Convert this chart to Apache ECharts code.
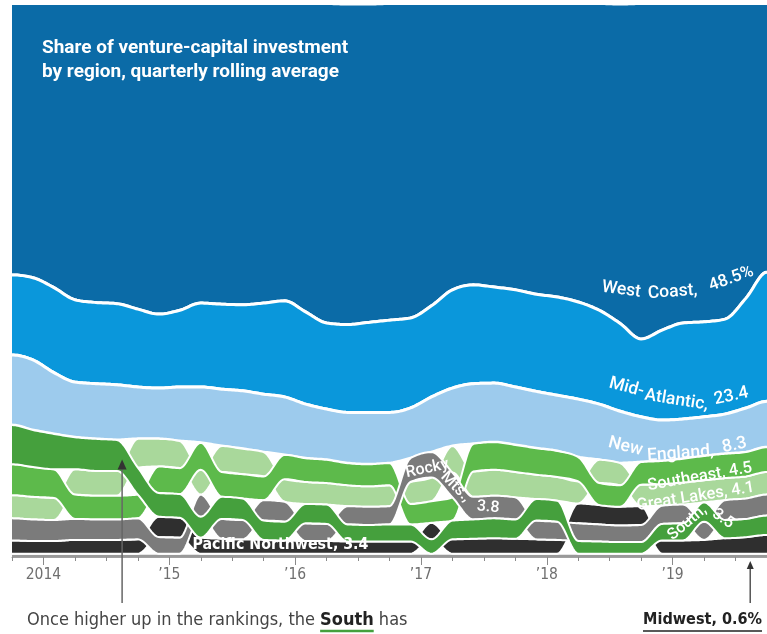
<!DOCTYPE html>
<html>
<head>
<meta charset="utf-8">
<script src="https://cdn.jsdelivr.net/npm/echarts@6/dist/echarts.min.js"></script>
<style>
  html, body { margin: 0; padding: 0; background: #fff; }
  #chart { width: 767px; height: 634px; }
</style>
</head>
<body>
<div id="chart"></div>
<script>
// Bi-monthly samples of the quarterly rolling average, share of VC investment (%)
const dates = ['2013-10','2013-12','2014-02','2014-04','2014-06','2014-08','2014-10','2014-12',
  '2015-02','2015-04','2015-06','2015-08','2015-10','2015-12','2016-02','2016-04','2016-06','2016-08',
  '2016-10','2016-12','2017-02','2017-04','2017-06','2017-08','2017-10','2017-12','2018-02','2018-04',
  '2018-06','2018-08','2018-10','2018-12','2019-02','2019-04','2019-06','2019-08','2019-10'];

const westCoast   = [48.9,49.5,51.3,53.4,54.0,54.2,55.1,56.0,55.3,54.0,54.2,54.3,54.0,53.6,55.6,57.6,57.8,57.4,57.1,56.7,54.5,51.6,50.7,51.1,51.6,52.4,52.9,53.8,55.3,57.6,60.5,58.9,57.6,57.4,56.9,53.1,48.5];
const midAtlantic = [14.5,14.9,15.4,14.9,14.7,14.7,14.1,13.4,13.9,15.2,15.4,15.6,16.5,17.4,16.7,15.6,15.9,16.3,16.7,16.3,16.5,17.8,17.9,17.4,17.6,17.6,17.8,17.6,17.0,15.9,14.1,16.3,17.4,17.2,17.2,19.9,23.4];
const newEngland  = [12.7,12.7,11.1,10.0,10.0,10.0,9.4,9.2,9.8,10.1,10.3,10.5,10.5,10.5,9.8,9.2,9.2,9.4,9.2,9.1,10.0,10.5,10.9,10.7,10.5,10.3,10.1,10.5,10.1,9.4,8.2,7.4,7.2,7.1,7.2,8.0,8.3];
const southeast   = [5.6,5.4,5.2,4.4,4.3,4.3,4.3,4.8,4.7,4.9,4.5,4.4,4.3,4.4,4.3,4.2,4.0,4.0,4.0,3.7,3.9,4.2,5.0,5.0,4.9,4.8,4.7,4.4,4.0,3.9,4.1,4.2,4.3,4.4,4.4,4.4,4.5];
const greatLakes  = [4.2,4.1,4.0,4.6,4.5,4.5,5.2,5.0,4.9,4.5,4.7,4.6,4.4,4.1,4.0,3.9,3.8,3.7,3.8,4.0,4.3,4.8,4.6,4.7,4.6,4.4,4.3,4.0,4.2,4.0,3.9,3.9,4.0,4.0,4.0,4.0,4.1];
const rockyMts    = [4.0,3.9,3.8,3.8,3.7,3.7,3.8,3.0,2.9,4.0,3.6,3.5,3.7,3.6,3.2,3.1,3.3,3.3,3.3,4.3,4.6,4.5,4.1,4.1,4.0,3.4,3.3,3.2,3.1,3.0,3.1,3.3,3.4,3.3,3.6,3.7,3.8];
const south       = [7.1,6.7,6.4,5.8,5.8,5.6,4.9,4.3,4.3,3.8,4.0,3.9,3.5,3.4,3.5,3.5,3.1,3.0,3.1,3.1,2.6,3.4,3.5,3.6,3.5,3.9,3.8,2.3,2.2,2.1,2.1,3.0,3.1,3.5,3.3,3.3,3.5];
const pacificNW   = [2.4,2.3,2.3,2.5,2.5,2.5,2.6,3.7,3.6,2.9,2.7,2.6,2.5,2.4,2.3,2.3,2.2,2.2,2.2,2.2,3.0,2.6,2.7,2.8,2.7,2.6,2.5,3.6,3.5,3.4,3.4,2.4,2.4,2.5,2.8,3.0,3.4];
const midwest     = [0.6,0.6,0.6,0.6,0.6,0.6,0.6,0.6,0.6,0.6,0.6,0.6,0.6,0.6,0.6,0.6,0.6,0.6,0.6,0.6,0.6,0.6,0.6,0.6,0.6,0.6,0.6,0.6,0.6,0.6,0.6,0.6,0.6,0.6,0.6,0.6,0.6];

const yearTickLabels = ['2014', '\u201915', '\u201916', '\u201917', '\u201918', '\u201919'];

// ---------------------------------------------------------------------------
// months since Jan 2014
const months = dates.map(d => { const [y, m] = d.split('-').map(Number); return (y - 2014) * 12 + (m - 1); });

// draw order: bottom of the pile first, ribbons that cross over others last
const regions = [
  { name: 'West Coast',        values: westCoast,   color: '#0b6ba7', edge: 3 },
  { name: 'Mid-Atlantic',      values: midAtlantic, color: '#0a97db', edge: 3 },
  { name: 'New England',       values: newEngland,  color: '#9dcbed', edge: 3 },
  { name: 'Midwest',           values: midwest,     color: '#999999', edge: 2 },
  { name: 'Pacific Northwest', values: pacificNW,   color: '#2f2f2f', edge: 2 },
  { name: 'Great Lakes',       values: greatLakes,  color: '#a9d89b', edge: 2 },
  { name: 'Southeast',         values: southeast,   color: '#5dba4b', edge: 2 },
  { name: 'Rocky Mts.',        values: rockyMts,    color: '#7b7b7b', edge: 2 },
  { name: 'South',             values: south,       color: '#45a03d', edge: 2 }
];

// rank-ordered stacking: at every sample the smallest share sits at the bottom
regions.forEach(r => { r.lo = []; r.hi = []; });
for (let i = 0; i < months.length; i++) {
  const order = regions.map((r, k) => k).sort((a, b) => regions[a].values[i] - regions[b].values[i]);
  let acc = 0;
  order.forEach(k => {
    const r = regions[k];
    r.lo[i] = acc; acc += r.values[i]; r.hi[i] = acc;
  });
}

// monotone cubic (x-monotone) sampling of pixel points
function monotoneSamples(pts, steps) {
  const n = pts.length;
  const s = [], m = new Array(n);
  for (let i = 0; i < n - 1; i++) s[i] = (pts[i + 1][1] - pts[i][1]) / (pts[i + 1][0] - pts[i][0]);
  for (let i = 1; i < n - 1; i++) {
    if (s[i - 1] * s[i] <= 0) { m[i] = 0; continue; }
    const h0 = pts[i][0] - pts[i - 1][0], h1 = pts[i + 1][0] - pts[i][0];
    const p = (s[i - 1] * h1 + s[i] * h0) / (h0 + h1);
    m[i] = (Math.sign(s[i - 1]) + Math.sign(s[i])) * Math.min(Math.abs(s[i - 1]), Math.abs(s[i]), 0.5 * Math.abs(p));
  }
  m[0] = 0; m[n - 1] = 0;
  const out = [pts[0].slice()];
  for (let i = 0; i < n - 1; i++) {
    const [x0, y0] = pts[i], [x1, y1] = pts[i + 1], h = x1 - x0;
    for (let k = 1; k <= steps; k++) {
      const t = k / steps, t2 = t * t, t3 = t2 * t;
      const y = (2 * t3 - 3 * t2 + 1) * y0 + (t3 - 2 * t2 + t) * h * m[i] + (-2 * t3 + 3 * t2) * y1 + (t3 - t2) * h * m[i + 1];
      out.push([x0 + t * h, y]);
    }
  }
  return out;
}

function bandRenderer(r, idx) {
  return function (params, api) {
    const top = monotoneSamples(r.hi.map((v, i) => api.coord([months[i], v])), 12);
    const bot = monotoneSamples(r.lo.map((v, i) => api.coord([months[i], v])), 12);
    const children = [
      { type: 'polygon', shape: { points: top.concat(bot.slice().reverse()) }, style: { fill: r.color } }
    ];
    if (idx !== 0) children.push({ type: 'polyline', shape: { points: top }, style: { stroke: '#fff', lineWidth: r.edge, fill: 'none' } });
    if (r.name !== 'Midwest') children.push({ type: 'polyline', shape: { points: bot }, style: { stroke: '#fff', lineWidth: r.edge, fill: 'none' } });
    return { type: 'group', children };
  };
}

// fonts: a condensed face for the small print when one is installed
function pickFont(list) {
  const c = document.createElement('canvas').getContext('2d');
  const probe = 'mmmmmmmmmmlli1WQ abc';
  c.font = '40px monospace';
  const base = c.measureText(probe).width;
  for (const f of list) {
    c.font = '40px "' + f + '", monospace';
    if (Math.abs(c.measureText(probe).width - base) > 0.5) return f;
  }
  return null;
}
const SANS = 'Roboto, "Noto Sans", sans-serif';
const narrowFace = pickFont(['Liberation Sans Narrow', 'DejaVu Sans Condensed', 'Roboto Condensed']);
const NARROW = narrowFace ? '"' + narrowFace + '", ' + SANS : SANS;

const measureCtx = document.createElement('canvas').getContext('2d');
function textWidth(text, weight, size, family) {
  measureCtx.font = weight + ' ' + size + 'px ' + family;
  return measureCtx.measureText(text).width;
}
// font size giving a text run the wanted width
function fitSize(text, weight, family, width, maxSize) {
  const s = 20 * width / textWidth(text, weight, 20, family);
  return Math.min(s, maxSize);
}

// ribbon labels (positions in data units: month, percent)
const annotations = [
  { text: 'West',      m: 55.1,  v: 48.4, rot: -8,  size: 17.5 },
  { text: 'Coast,',    m: 60.0,  v: 48.0, rot: 4,   size: 17.5 },
  { text: '48.5%',     m: 65.6,  v: 50.4, rot: 20,  size: 17 },
  { text: 'Mid-',      m: 55.6,  v: 30.7, rot: -15, size: 17.5 },
  { text: 'Atlantic,', m: 60.35, v: 28.4, rot: -9,  size: 17.5 },
  { text: '23.4',      m: 65.6,  v: 29.1, rot: 12,  size: 17.5 },
  { text: 'New',       m: 55.5,  v: 20.0, rot: -14, size: 17.5 },
  { text: 'England,',  m: 60.75, v: 18.7, rot: 4,   size: 17.5 },
  { text: '8.3',       m: 65.9,  v: 20.2, rot: 12,  size: 17.5 },
  { text: 'Southeast, 4.5',   m: 62.6, v: 14.5, rot: 10, size: 16.5 },
  { text: 'Great Lakes, 4.1', m: 62.2, v: 10.9, rot: 9,  size: 16.5 },
  { text: 'South,',    m: 61.4,  v: 6.2,  rot: 40,  size: 16 },
  { text: '3.5',       m: 64.8,  v: 6.9,  rot: -35, size: 16 },
  { text: 'Rocky',     m: 36.6,  v: 16.0, rot: 12,  size: 16 },
  { text: 'Mts.,',     m: 39.3,  v: 12.7, rot: -45, size: 16 },
  { text: '3.8',       m: 42.4,  v: 9.0,  rot: -5,  size: 16 },
  { text: 'Pacific Northwest, 3.4', m: 22.6, v: 2.2, rot: 0, narrowWidth: 176, weight: 'bold' }
];

const chart = echarts.init(document.getElementById('chart'), null, { renderer: 'canvas' });

const quarterTicks = [];
for (let q = -3; q <= 69; q += 3) quarterTicks.push(q);
const yearTicks = yearTickLabels.map((_, k) => k * 12);

chart.setOption({
  animation: false,
  backgroundColor: '#fff',
  grid: { left: 12, right: 0, top: 5, bottom: 77 },
  xAxis: [
    {
      type: 'value', min: -3, max: 69, z: 10,
      axisLine: { show: true, lineStyle: { color: '#a0a0a0', width: 1 } },
      axisTick: { show: true, customValues: quarterTicks, length: 4, lineStyle: { color: '#8a8a8a' } },
      axisLabel: { show: false },
      splitLine: { show: false }
    },
    {
      type: 'value', min: -3, max: 69, position: 'bottom', z: 10,
      axisLine: { show: false },
      axisTick: { show: true, customValues: yearTicks, length: 8, lineStyle: { color: '#8a8a8a' } },
      axisLabel: {
        show: true, customValues: yearTicks, margin: 10,
        color: '#6f6f6f', fontFamily: NARROW, fontSize: 15.5,
        formatter: v => yearTickLabels[Math.round(v / 12)]
      },
      splitLine: { show: false }
    }
  ],
  yAxis: { type: 'value', min: 0, max: 100, show: false },
  series: regions.map((r, idx) => ({
    type: 'custom', name: r.name, coordinateSystem: 'cartesian2d', clip: true, silent: true,
    data: [[months[0], 0]], renderItem: bandRenderer(r, idx)
  })).concat([{
    type: 'custom', name: 'labels', coordinateSystem: 'cartesian2d', clip: false, silent: true,
    data: annotations.map(a => [a.m, a.v]),
    renderItem: function (params, api) {
      const a = annotations[params.dataIndex];
      const p = api.coord([a.m, a.v]);
      const family = a.narrowWidth ? NARROW : SANS;
      const weight = a.weight || 500;
      const size = a.narrowWidth ? fitSize(a.text, weight, family, a.narrowWidth, 18) : a.size;
      return {
        type: 'text', x: p[0], y: p[1], rotation: a.rot * Math.PI / 180,
        style: { text: a.text, fill: '#fff', fontSize: size, fontWeight: weight, fontFamily: family, align: 'center', verticalAlign: 'middle' }
      };
    }
  }])
});

// title, notes and pointers
const arrowSouth = chart.convertToPixel({ xAxisIndex: 0, yAxisIndex: 0 }, [7.5, 17.5]);
const arrowMidwest = chart.convertToPixel({ xAxisIndex: 0, yAxisIndex: 0 }, [67.4, 0]);

const titleSize = fitSize('Share of venture-capital investment', 'bold', SANS, 338, 19);
const leadText = 'Once higher up in the rankings, the ';
const noteSize = fitSize('Once higher up in the rankings, the South has', 300, NARROW, 383, 18);
const leadW = textWidth(leadText, 300, noteSize, NARROW);
const southW = textWidth('South', 'bold', noteSize, NARROW);
const midwestSize = fitSize('Midwest, 0.6%', 'bold', NARROW, 119, 18);
const noteX = 27, noteY = 620;

chart.setOption({
  graphic: [
    { type: 'text', z: 100, x: 42, y: 48, style: { text: 'Share of venture-capital investment', fill: '#fff', fontSize: titleSize, fontWeight: 'bold', fontFamily: SANS, verticalAlign: 'middle' } },
    { type: 'text', z: 100, x: 42, y: 72, style: { text: 'by region, quarterly rolling average', fill: '#fff', fontSize: titleSize, fontWeight: 'bold', fontFamily: SANS, verticalAlign: 'middle' } },

    { type: 'line', z: 100, shape: { x1: arrowSouth[0], y1: arrowSouth[1] + 8, x2: arrowSouth[0], y2: 603 }, style: { stroke: '#666', lineWidth: 1.5 } },
    { type: 'polygon', z: 100, shape: { points: [[arrowSouth[0], arrowSouth[1] - 1], [arrowSouth[0] - 4.5, arrowSouth[1] + 9], [arrowSouth[0] + 4.5, arrowSouth[1] + 9]] }, style: { fill: '#333' } },
    { type: 'line', z: 100, shape: { x1: arrowMidwest[0], y1: arrowMidwest[1] + 10, x2: arrowMidwest[0], y2: 603 }, style: { stroke: '#555', lineWidth: 1.5 } },
    { type: 'polygon', z: 100, shape: { points: [[arrowMidwest[0], arrowMidwest[1] + 4], [arrowMidwest[0] - 3.5, arrowMidwest[1] + 12], [arrowMidwest[0] + 3.5, arrowMidwest[1] + 12]] }, style: { fill: '#333' } },

    { type: 'text', z: 100, x: noteX, y: noteY, style: { text: leadText, fill: '#444', fontSize: noteSize, fontWeight: 300, fontFamily: NARROW, verticalAlign: 'middle' } },
    { type: 'text', z: 100, x: noteX + leadW, y: noteY, style: { text: 'South', fill: '#222', fontSize: noteSize, fontWeight: 'bold', fontFamily: NARROW, verticalAlign: 'middle' } },
    { type: 'text', z: 100, x: noteX + leadW + southW, y: noteY, style: { text: ' has', fill: '#444', fontSize: noteSize, fontWeight: 300, fontFamily: NARROW, verticalAlign: 'middle' } },
    { type: 'line', z: 100, shape: { x1: noteX + leadW, y1: 631, x2: noteX + leadW + southW, y2: 631 }, style: { stroke: '#45a03d', lineWidth: 2.5 } },

    { type: 'text', z: 100, x: 762, y: noteY, style: { text: 'Midwest, 0.6%', fill: '#222', fontSize: midwestSize, fontWeight: 'bold', fontFamily: NARROW, align: 'right', verticalAlign: 'middle' } },
    { type: 'line', z: 100, shape: { x1: 643, y1: 631, x2: 762, y2: 631 }, style: { stroke: '#222', lineWidth: 1.5 } }
  ]
});
</script>
</body>
</html>
